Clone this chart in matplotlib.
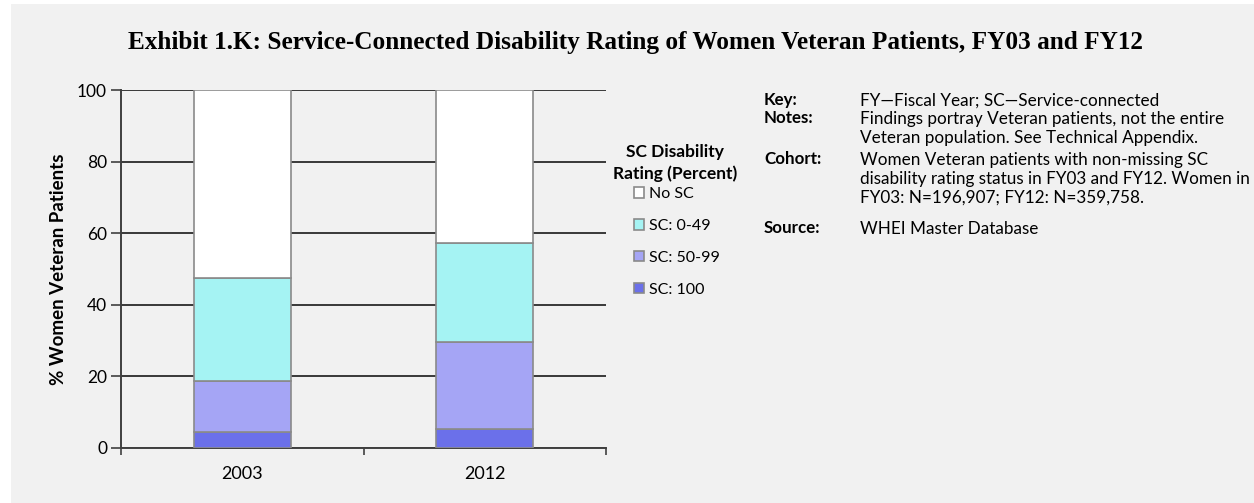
import matplotlib.pyplot as plt
from matplotlib.patches import Rectangle

# data (percent of women Veteran patients)
years = ["2003", "2012"]
sc_100 = [4.4, 5.4]
sc_50_99 = [14.4, 24.2]
sc_0_49 = [28.7, 27.7]
no_sc = [52.5, 42.7]

series_names = ["No SC", "SC: 0-49", "SC: 50-99", "SC: 100"]
series_colors = ["#ffffff", "#a5f3f3", "#a5a5f5", "#6b70ea"]

notes_labels = ["Key:", "Notes:", "Cohort:", "Source:"]
notes_texts = [
    "FY\u2014Fiscal Year; SC\u2014Service-connected",
    "Findings portray Veteran patients, not the entire\nVeteran population. See Technical Appendix.",
    "Women Veteran patients with non-missing SC\ndisability rating status in FY03 and FY12. Women in\nFY03: N=196,907; FY12: N=359,758.",
    "WHEI Master Database",
]

plt.rcParams['font.family'] = ['Lato', 'DejaVu Sans']
bg = "#f1f1f1"

fig = plt.figure(figsize=(12.54, 5.03), dpi=100, facecolor="white")
# grey panel with a thin white margin at top and left
fig.patches.append(Rectangle((11 / 1254, 0), 1, 1 - 4 / 503, transform=fig.transFigure,
                             facecolor=bg, edgecolor="none", zorder=-10))

ax = fig.add_axes([121 / 1254, 55 / 503, 485 / 1254, 358 / 503])
ax.set_facecolor(bg)

x = list(range(len(years)))
stack = [sc_100, sc_50_99, sc_0_49, no_sc]
stack_colors = series_colors[::-1]
stack_names = series_names[::-1]
bottom = [0] * len(years)
handles = {}
for vals, col, name in zip(stack, stack_colors, stack_names):
    b = ax.bar(x, vals, width=0.4, bottom=bottom, color=col, edgecolor="#8a8a8a",
               linewidth=1.2, zorder=3)
    handles[name] = b
    bottom = [bb + v for bb, v in zip(bottom, vals)]

ax.set_xlim(-0.5, 1.5)
ax.set_ylim(0, 100)
ax.set_yticks([0, 20, 40, 60, 80, 100])
ax.yaxis.grid(True, color="#2a2a2a", linewidth=1.3, zorder=0)
ax.set_axisbelow(True)

ax.set_xticks([-0.5, 0.5, 1.5])
ax.set_xticklabels([])
ax.set_xticks(x, minor=True)
ax.set_xticklabels(years, minor=True)
ax.tick_params(axis="x", which="major", length=5, width=1.2, color="#404040", direction="out")
ax.tick_params(axis="x", which="minor", length=0, pad=13, labelsize=13)
ax.tick_params(axis="y", length=7, width=1.2, color="#404040", labelsize=12.5, pad=3)

for s in ["top", "right"]:
    ax.spines[s].set_visible(False)
for s in ["left", "bottom"]:
    ax.spines[s].set_color("#404040")
    ax.spines[s].set_linewidth(1.4)

ax.set_ylabel("% Women Veteran Patients", fontsize=13.5, fontweight="bold", labelpad=7)

# legend: title as text, entries as a legend below it
fig.text(675 / 1254, 1 - 163 / 503, "SC Disability\nRating (Percent)", ha="center", va="center",
         fontsize=12.5, fontweight="bold", linespacing=1.4)
leg = fig.legend([handles[n] for n in series_names], series_names,
                 loc="upper left", bbox_to_anchor=(634 / 1254, 1 - 187 / 503),
                 frameon=False, fontsize=11.5, handlelength=0.65, handleheight=0.65,
                 handletextpad=0.3, labelspacing=1.12, borderpad=0, borderaxespad=0)

fig.text(0.5068, 1 - 42 / 503, "Exhibit 1.K: Service-Connected Disability Rating of Women Veteran Patients, FY03 and FY12",
         ha="center", va="center", fontsize=18.2, fontweight="bold", family="Liberation Serif")

y_lines = [100, 118, 159, 228]
for lab, txt, yy in zip(notes_labels, notes_texts, y_lines):
    fig.text(764 / 1254, 1 - yy / 503, lab, ha="left", va="center", fontsize=12.2, fontweight="bold")
    fig.text(860 / 1254, 1 - (yy - 7) / 503, txt, ha="left", va="top", fontsize=12.3, linespacing=1.22)

fig.savefig("out.png", dpi=100, facecolor=fig.get_facecolor())
